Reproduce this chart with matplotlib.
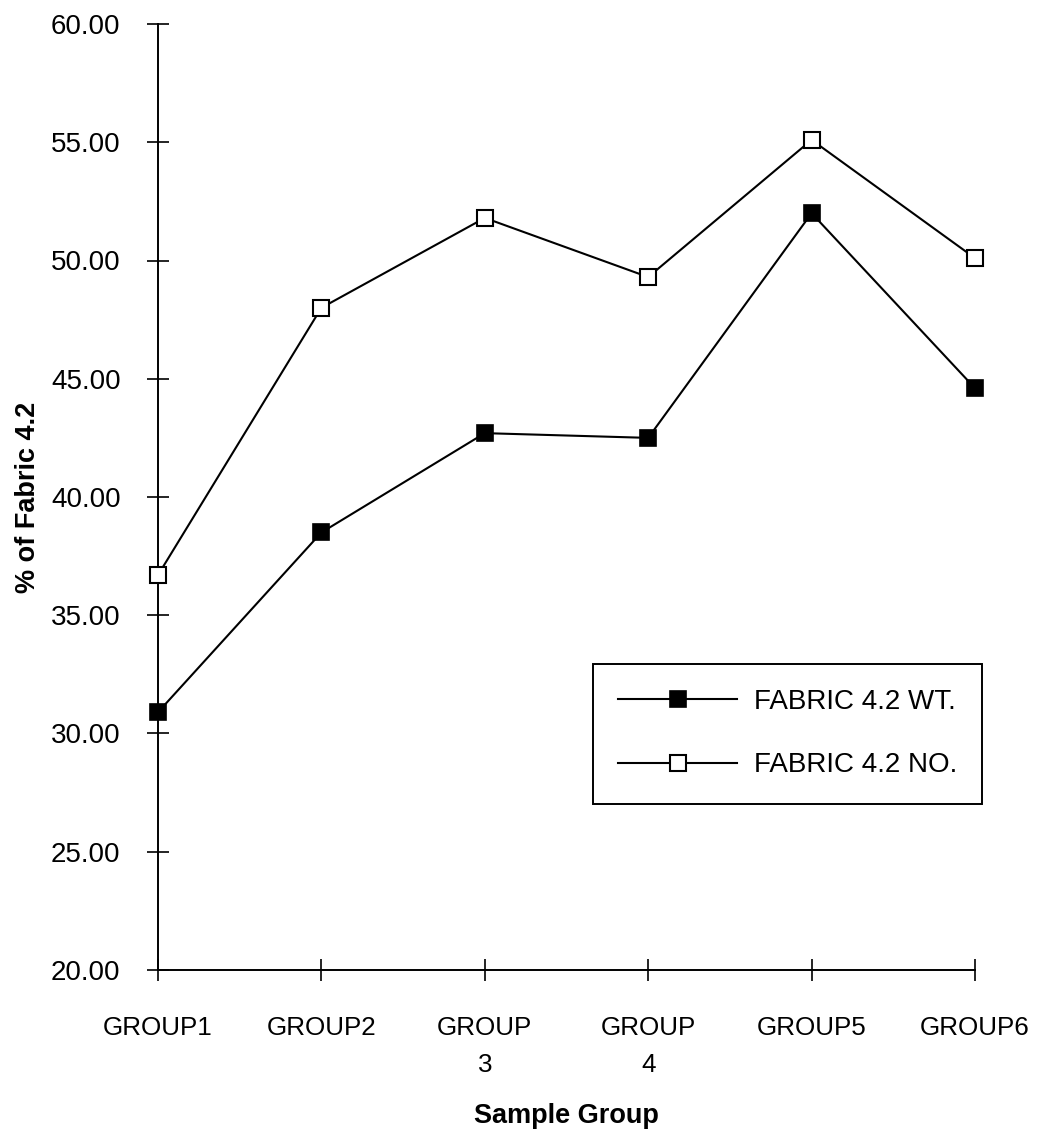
import matplotlib
matplotlib.use('Agg')
import matplotlib.pyplot as plt

plt.rcParams['font.family'] = ['Liberation Sans', 'DejaVu Sans']

groups = ['GROUP1', 'GROUP2', 'GROUP\n3', 'GROUP\n4', 'GROUP5', 'GROUP6']
fabric_wt = [30.9, 38.5, 42.7, 42.5, 52.0, 44.6]
fabric_no = [36.7, 48.0, 51.8, 49.3, 55.1, 50.1]
y_ticks = [20, 25, 30, 35, 40, 45, 50, 55, 60]

x = list(range(len(groups)))

fig = plt.figure(figsize=(10.41, 11.31), dpi=100)
ax = fig.add_axes([158 / 1041, 1 - 970 / 1131, 817 / 1041, 946 / 1131])

ax.plot(x, fabric_wt, '-', color='black', lw=1.5, marker='s', ms=11,
        mfc='black', mec='black', mew=1.2, clip_on=False, zorder=3,
        label='FABRIC 4.2 WT.')
ax.plot(x, fabric_no, '-', color='black', lw=1.5, marker='s', ms=11,
        mfc='white', mec='black', mew=1.5, clip_on=False, zorder=3,
        label='FABRIC 4.2 NO.')

ax.set_xlim(0, len(groups) - 1)
ax.set_ylim(20, 60)
ax.set_yticks(y_ticks)
ax.set_yticklabels(['%.2f' % v for v in y_ticks], fontsize=20)
ax.set_xticks(x)
ax.set_xticklabels(groups, linespacing=1.7, fontsize=18.7)

for s in ['top', 'right']:
    ax.spines[s].set_visible(False)
for s in ['left', 'bottom']:
    ax.spines[s].set_linewidth(1.4)

ax.tick_params(axis='both', direction='inout', length=16, width=1.2,
               colors='black')
ax.tick_params(axis='y', pad=19)
ax.tick_params(axis='x', pad=25)

ax.set_ylabel('% of Fabric 4.2', fontsize=19.5, fontweight='bold')
ax.yaxis.set_label_coords(-0.1432, 0.5)
ax.set_xlabel('Sample Group', fontsize=19.5, fontweight='bold')
ax.xaxis.set_label_coords(0.5, -0.1406)

leg = ax.legend(loc='upper left', bbox_to_anchor=(593 / 1041, 1 - 664 / 1131),
                bbox_transform=fig.transFigure, borderaxespad=0,
                fontsize=20, handlelength=4.3, handletextpad=0.6,
                labelspacing=1.35, borderpad=0.9, fancybox=False,
                edgecolor='black', framealpha=1, markerscale=1.0)
leg.get_frame().set_linewidth(1.4)

plt.savefig('out.png', dpi=100)
